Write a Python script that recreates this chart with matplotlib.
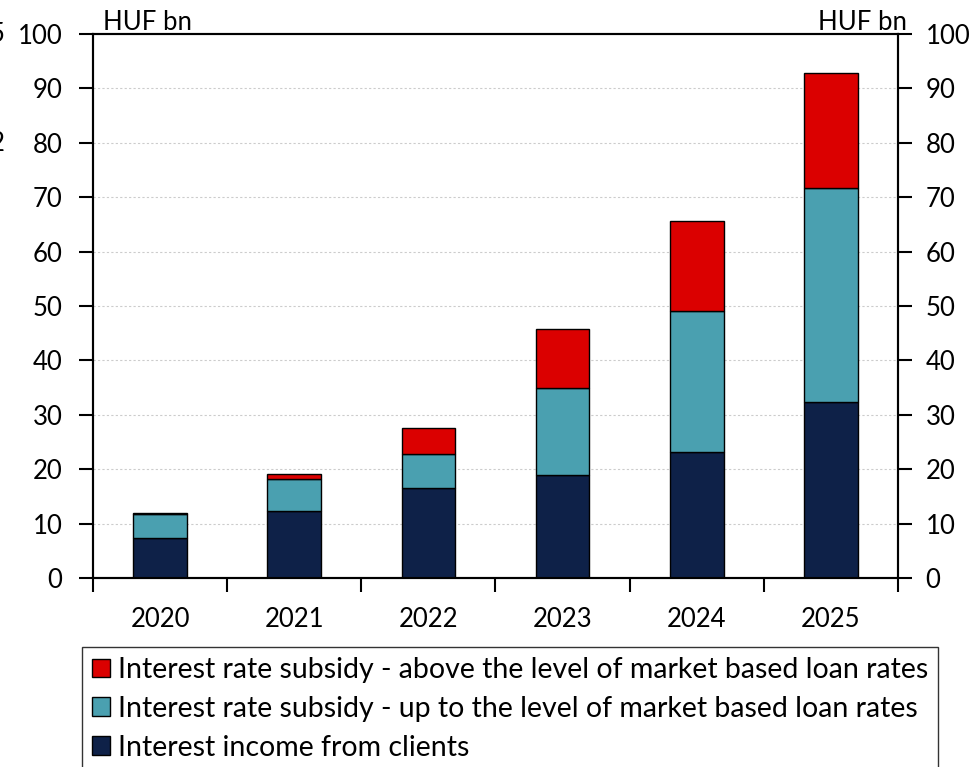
import matplotlib.pyplot as plt
import numpy as np

years = ['2020', '2021', '2022', '2023', '2024', '2025']
income_clients = [7.4, 12.3, 16.6, 19.0, 23.2, 32.4]
subsidy_market = [4.4, 5.9, 6.2, 15.9, 25.9, 39.2]
subsidy_above = [0.2, 1.0, 4.7, 10.9, 16.5, 21.2]

labels = ['Interest rate subsidy - above the level of market based loan rates',
          'Interest rate subsidy - up to the level of market based loan rates',
          'Interest income from clients']
colors = ['#DB0000', '#4AA0B0', '#0E2148']

plt.rcParams['font.family'] = ['Lato', 'DejaVu Sans']
fs = 18.5

fig = plt.figure(figsize=(9.78, 7.67), dpi=100)
ax = fig.add_axes([0.0951, 0.2464, 0.8230, 0.7093])

x = np.arange(len(years))
w = 0.4
b1 = ax.bar(x, income_clients, w, color=colors[2], edgecolor='black', linewidth=1, zorder=3)
b2 = ax.bar(x, subsidy_market, w, bottom=income_clients, color=colors[1],
            edgecolor='black', linewidth=1, zorder=3)
bottom3 = np.array(income_clients) + np.array(subsidy_market)
b3 = ax.bar(x, subsidy_above, w, bottom=bottom3, color=colors[0],
            edgecolor='black', linewidth=1, zorder=3)

ax.set_xlim(-0.5, len(years) - 0.5)
ax.set_ylim(0, 100)
ax.set_yticks(range(0, 101, 10))
ax.set_xticks(x)
ax.set_xticklabels(years, fontsize=fs)
ax.set_xticks(np.arange(-0.5, len(years), 1), minor=True)
ax.tick_params(axis='x', which='major', length=0, pad=21)
ax.tick_params(axis='x', which='minor', length=10, width=1.5, direction='out')
ax.tick_params(axis='y', labelsize=fs, length=10, width=1.5, direction='out', pad=12)
for yv in range(10, 100, 10):
    ax.axhline(yv, color='#CCCCCC', linestyle=(0, (2, 2)), linewidth=0.8, zorder=1)
for s in ax.spines.values():
    s.set_linewidth(1.5)

ax2 = ax.twinx()
ax2.set_ylim(0, 100)
ax2.set_yticks(range(0, 101, 10))
ax2.tick_params(axis='y', labelsize=fs, length=10, width=1.5, direction='out', pad=10)
for s in ax2.spines.values():
    s.set_linewidth(1.5)

fig.text(0.105, 0.961, 'HUF bn', fontsize=18.5, ha='left', va='baseline')
fig.text(0.927, 0.961, 'HUF bn', fontsize=18.5, ha='right', va='baseline')
# labels clipped at the left edge
fig.text(0.005, 0.955, '5', fontsize=fs, ha='right', va='center')
fig.text(0.005, 0.813, '2', fontsize=fs, ha='right', va='center')

leg = fig.legend([b3, b2, b1], labels, loc='upper left', bbox_to_anchor=(0.0838, 0.1565),
                 fontsize=20.5, frameon=True, fancybox=False, edgecolor='black',
                 handlelength=0.63, handleheight=0.63, handletextpad=0.28,
                 labelspacing=0.45, borderpad=0.35, borderaxespad=0)
leg.get_frame().set_linewidth(1.0)

fig.savefig('out.png', dpi=100)
